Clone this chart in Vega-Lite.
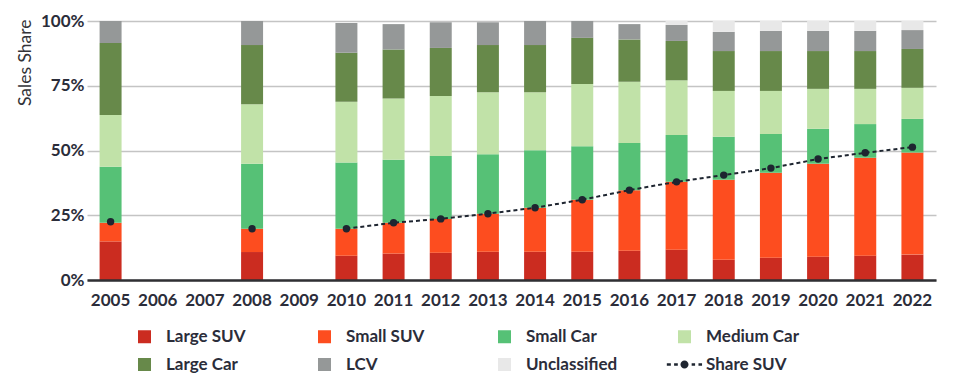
{
  "$schema": "https://vega.github.io/schema/vega-lite/v6.json",
  "autosize": "none",
  "width": 849,
  "height": 259,
  "padding": {"left": 87, "top": 21, "right": 19, "bottom": 106},
  "background": "white",
  "config": {"view": {"stroke": null}, "font": "Lato"},
  "datasets": {
    "categories": [
      {"type": "Large SUV", "stack": 1}, {"type": "Small SUV", "stack": 2}, {"type": "Small Car", "stack": 3}, {"type": "Medium Car", "stack": 4}, {"type": "Large Car", "stack": 5}, {"type": "LCV", "stack": 6}, {"type": "Unclassified", "stack": 7}
    ],
    "shares": [
      {"year": 2005, "type": "Large SUV", "share": 14.9}, {"year": 2005, "type": "Small SUV", "share": 7.2}, {"year": 2005, "type": "Small Car", "share": 21.6}, {"year": 2005, "type": "Medium Car", "share": 20.0}, {"year": 2005, "type": "Large Car", "share": 27.8}, {"year": 2005, "type": "LCV", "share": 8.5},
      {"year": 2008, "type": "Large SUV", "share": 10.8}, {"year": 2008, "type": "Small SUV", "share": 9.0}, {"year": 2008, "type": "Small Car", "share": 25.1}, {"year": 2008, "type": "Medium Car", "share": 23.0}, {"year": 2008, "type": "Large Car", "share": 22.8}, {"year": 2008, "type": "LCV", "share": 9.3},
      {"year": 2010, "type": "Large SUV", "share": 9.4}, {"year": 2010, "type": "Small SUV", "share": 10.4}, {"year": 2010, "type": "Small Car", "share": 25.6}, {"year": 2010, "type": "Medium Car", "share": 23.4}, {"year": 2010, "type": "Large Car", "share": 18.9}, {"year": 2010, "type": "LCV", "share": 11.5},
      {"year": 2011, "type": "Large SUV", "share": 10.2}, {"year": 2011, "type": "Small SUV", "share": 11.9}, {"year": 2011, "type": "Small Car", "share": 24.3}, {"year": 2011, "type": "Medium Car", "share": 23.7}, {"year": 2011, "type": "Large Car", "share": 18.9}, {"year": 2011, "type": "LCV", "share": 9.8},
      {"year": 2012, "type": "Large SUV", "share": 10.5}, {"year": 2012, "type": "Small SUV", "share": 13.1}, {"year": 2012, "type": "Small Car", "share": 24.3}, {"year": 2012, "type": "Medium Car", "share": 23.1}, {"year": 2012, "type": "Large Car", "share": 18.6}, {"year": 2012, "type": "LCV", "share": 9.9},
      {"year": 2013, "type": "Large SUV", "share": 10.9}, {"year": 2013, "type": "Small SUV", "share": 14.7}, {"year": 2013, "type": "Small Car", "share": 23.0}, {"year": 2013, "type": "Medium Car", "share": 23.9}, {"year": 2013, "type": "Large Car", "share": 18.2}, {"year": 2013, "type": "LCV", "share": 8.8},
      {"year": 2014, "type": "Large SUV", "share": 10.9}, {"year": 2014, "type": "Small SUV", "share": 17.0}, {"year": 2014, "type": "Small Car", "share": 22.2}, {"year": 2014, "type": "Medium Car", "share": 22.4}, {"year": 2014, "type": "Large Car", "share": 18.2}, {"year": 2014, "type": "LCV", "share": 9.3},
      {"year": 2015, "type": "Large SUV", "share": 10.9}, {"year": 2015, "type": "Small SUV", "share": 20.1}, {"year": 2015, "type": "Small Car", "share": 20.6}, {"year": 2015, "type": "Medium Car", "share": 24.1}, {"year": 2015, "type": "Large Car", "share": 17.8}, {"year": 2015, "type": "LCV", "share": 6.5},
      {"year": 2016, "type": "Large SUV", "share": 11.3}, {"year": 2016, "type": "Small SUV", "share": 23.4}, {"year": 2016, "type": "Small Car", "share": 18.2}, {"year": 2016, "type": "Medium Car", "share": 23.6}, {"year": 2016, "type": "Large Car", "share": 16.4}, {"year": 2016, "type": "LCV", "share": 5.9},
      {"year": 2017, "type": "Large SUV", "share": 11.7}, {"year": 2017, "type": "Small SUV", "share": 26.2}, {"year": 2017, "type": "Small Car", "share": 18.1}, {"year": 2017, "type": "Medium Car", "share": 21.1}, {"year": 2017, "type": "Large Car", "share": 15.2}, {"year": 2017, "type": "LCV", "share": 6.2}, {"year": 2017, "type": "Unclassified", "share": 1.5},
      {"year": 2018, "type": "Large SUV", "share": 7.8}, {"year": 2018, "type": "Small SUV", "share": 30.9}, {"year": 2018, "type": "Small Car", "share": 16.6}, {"year": 2018, "type": "Medium Car", "share": 17.7}, {"year": 2018, "type": "Large Car", "share": 15.4}, {"year": 2018, "type": "LCV", "share": 7.4}, {"year": 2018, "type": "Unclassified", "share": 4.2},
      {"year": 2019, "type": "Large SUV", "share": 8.6}, {"year": 2019, "type": "Small SUV", "share": 32.8}, {"year": 2019, "type": "Small Car", "share": 15.0}, {"year": 2019, "type": "Medium Car", "share": 16.6}, {"year": 2019, "type": "Large Car", "share": 15.4}, {"year": 2019, "type": "LCV", "share": 7.8}, {"year": 2019, "type": "Unclassified", "share": 3.8},
      {"year": 2020, "type": "Large SUV", "share": 9.0}, {"year": 2020, "type": "Small SUV", "share": 35.9}, {"year": 2020, "type": "Small Car", "share": 13.5}, {"year": 2020, "type": "Medium Car", "share": 15.4}, {"year": 2020, "type": "Large Car", "share": 14.6}, {"year": 2020, "type": "LCV", "share": 7.8}, {"year": 2020, "type": "Unclassified", "share": 3.8},
      {"year": 2021, "type": "Large SUV", "share": 9.4}, {"year": 2021, "type": "Small SUV", "share": 37.8}, {"year": 2021, "type": "Small Car", "share": 13.0}, {"year": 2021, "type": "Medium Car", "share": 13.6}, {"year": 2021, "type": "Large Car", "share": 14.6}, {"year": 2021, "type": "LCV", "share": 7.8}, {"year": 2021, "type": "Unclassified", "share": 3.8},
      {"year": 2022, "type": "Large SUV", "share": 9.8}, {"year": 2022, "type": "Small SUV", "share": 39.4}, {"year": 2022, "type": "Small Car", "share": 13.0}, {"year": 2022, "type": "Medium Car", "share": 12.0}, {"year": 2022, "type": "Large Car", "share": 15.0}, {"year": 2022, "type": "LCV", "share": 7.3}, {"year": 2022, "type": "Unclassified", "share": 3.5}
    ],
    "suv": [
      {"year": 2005, "suv": 22.5}, {"year": 2008, "suv": 19.8}, {"year": 2010, "suv": 19.8}, {"year": 2011, "suv": 22.1}, {"year": 2012, "suv": 23.6}, {"year": 2013, "suv": 25.6}, {"year": 2014, "suv": 27.9}, {"year": 2015, "suv": 31.0}, {"year": 2016, "suv": 34.7}, {"year": 2017, "suv": 37.9}, {"year": 2018, "suv": 40.5}, {"year": 2019, "suv": 43.2}, {"year": 2020, "suv": 46.7}, {"year": 2021, "suv": 49.1}, {"year": 2022, "suv": 51.3}
    ]
  },
  "encoding": {
    "x": {
      "field": "year", "type": "ordinal",
      "scale": {"domain": [2005, 2006, 2007, 2008, 2009, 2010, 2011, 2012, 2013, 2014, 2015, 2016, 2017, 2018, 2019, 2020, 2021, 2022], "paddingInner": 0.534, "paddingOuter": 0.267},
      "axis": {"title": null, "labelAngle": 0, "ticks": false, "tickSize": 0, "domainColor": "#2f2f33", "domainWidth": 2.5, "labelFont": "Lato", "labelFontSize": 17, "labelFontWeight": "bold", "labelColor": "#2b2d3a", "labelPadding": 12, "zindex": 1, "grid": false}
    }
  },
  "layer": [
    {
      "data": {"name": "shares"},
      "transform": [{"lookup": "type", "from": {"data": {"name": "categories"}, "key": "type", "fields": ["stack"]}}],
      "mark": {"type": "bar"},
      "encoding": {
        "y": {
          "field": "share", "type": "quantitative", "stack": "zero",
          "scale": {"domain": [0, 100], "nice": false},
          "axis": {"values": [0, 25, 50, 75, 100], "labelExpr": "datum.value + '%'", "domain": false, "ticks": false, "tickSize": 0, "labelPadding": 3, "labelFont": "Lato", "labelFontSize": 17, "labelFontWeight": "bold", "labelColor": "#2b2d3a", "grid": true, "gridColor": "#c4c4c4", "gridWidth": 1.5, "title": "Sales Share", "titleFont": "Lato", "titleFontSize": 17.5, "titleFontWeight": "normal", "titleColor": "#333338", "titleAngle": -90, "titleX": -62, "titleY": -2, "titleAlign": "right", "titleBaseline": "middle"}
        },
        "color": {
          "field": "type", "type": "nominal",
          "sort": ["Large SUV", "Small SUV", "Small Car", "Medium Car", "Large Car", "LCV", "Unclassified", "Share SUV"],
          "scale": {
            "domain": ["Large SUV", "Small SUV", "Small Car", "Medium Car", "Large Car", "LCV", "Unclassified", "Share SUV"],
            "range": ["#cb2c20", "#fd4d1f", "#56c176", "#c1e2a8", "#67894a", "#959898", "#e8e8e8", "#1e2530"]
          },
          "legend": {
            "orient": "none", "legendX": 49, "legendY": 307, "columns": 4, "direction": "horizontal", "title": null,
            "symbolSize": 169, "symbolType": "square", "symbolStrokeWidth": 0, "symbolOpacity": 1,
            "labelFont": "Lato", "labelFontSize": 17, "labelFontWeight": "bold", "labelColor": "#2b2d3a", "labelOffset": 13,
            "columnPadding": 46, "rowPadding": 10, "gridAlign": "all",
            "encode": {"symbols": {"update": {"shape": {"signal": "datum.value === 'Share SUV' ? 'M-2.72,-0.19H-2.1V0.19H-2.72Z M-1.6,-0.19H-1.03V0.19H-1.6Z M1.1,-0.19H1.63V0.19H1.1Z M2.15,-0.19H2.7V0.19H2.15Z M-0.62,0A0.62,0.62,0,1,0,0.62,0A0.62,0.62,0,1,0,-0.62,0Z' : 'square'"}}}}
          }
        },
        "order": {"field": "stack", "type": "quantitative", "sort": "ascending"}
      }
    },
    {
      "data": {"name": "suv"},
      "transform": [{"filter": "datum.year >= 2010"}],
      "mark": {"type": "line", "color": "#1e2530", "strokeWidth": 2, "strokeDash": [4, 3]},
      "encoding": {"y": {"field": "suv", "type": "quantitative"}}
    },
    {
      "data": {"name": "suv"},
      "mark": {"type": "circle", "color": "#1e2530", "size": 55, "opacity": 1},
      "encoding": {"y": {"field": "suv", "type": "quantitative"}}
    }
  ]
}
